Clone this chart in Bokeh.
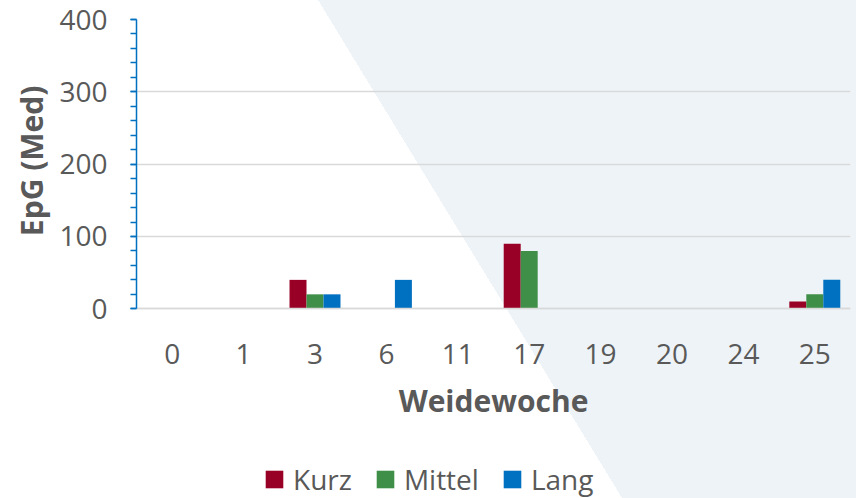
from bokeh.plotting import figure
from bokeh.models import (Range1d, FixedTicker, Legend, LegendItem, ColumnDataSource, Title)
from bokeh.transform import dodge
from bokeh.embed import file_html
from bokeh.resources import INLINE

# ---- data ----
weeks = ["0", "1", "3", "6", "11", "17", "19", "20", "24", "25"]
kurz = [0, 0, 40, 0, 0, 90, 0, 0, 0, 10]
mittel = [0, 0, 20, 0, 0, 80, 0, 0, 0, 20]
lang = [0, 0, 20, 40, 0, 0, 0, 0, 0, 40]
series_names = ["Kurz", "Mittel", "Lang"]
series_colors = ["#990026", "#3F8F48", "#0070C0"]
y_ticks = [0, 100, 200, 300, 400]
y_minor = list(range(0, 401, 20))

idx = list(range(len(weeks)))
src = ColumnDataSource(dict(x=idx, Kurz=kurz, Mittel=mittel, Lang=lang))

FONT = "Open Sans"
TXT = "#595959"

# frame runs to the canvas bottom; value 0 sits ~190px above it
p = figure(width=856, height=498, output_backend="svg", toolbar_location=None,
           x_range=Range1d(-0.5, 9.5), y_range=Range1d(-262.3, 400),
           min_border_left=136, min_border_right=6, min_border_top=19,
           min_border_bottom=0)
p.outline_line_color = None
p.background_fill_color = None
p.background_fill_alpha = 0
p.border_fill_color = None
p.border_fill_alpha = 0
# diagonal two-tone page background
p.styles = {"background": "linear-gradient(58.6deg, #FFFFFF 530.9px, #EEF3F7 530.9px)"}

bw = 0.238
offsets = [-bw, 0.0, bw]
renderers = []
for name, col, off in zip(series_names, series_colors, offsets):
    r = p.vbar(x=dodge("x", off), top=name, width=bw, source=src,
               fill_color=col, line_color=None)
    renderers.append(r)

# x axis pinned at y = 0
p.xaxis.fixed_location = 0
p.xaxis.ticker = FixedTicker(ticks=idx)
p.xaxis.major_label_overrides = {i: w for i, w in zip(idx, weeks)}
p.xaxis.major_tick_line_color = None
p.xaxis.minor_tick_line_color = None
p.xaxis.axis_line_color = "#D9D9D9"
p.xaxis.axis_line_width = 1.5
p.xaxis.major_label_text_font = FONT
p.xaxis.major_label_text_font_size = "28px"
p.xaxis.major_label_text_color = TXT
p.xaxis.major_label_standoff = 29
p.xaxis.axis_label = "Weidewoche"
p.xaxis.axis_label_text_font = FONT
p.xaxis.axis_label_text_font_style = "bold"
p.xaxis.axis_label_text_font_size = "30px"
p.xaxis.axis_label_text_color = TXT
p.xaxis.axis_label_standoff = 13

# y axis
yt = FixedTicker(ticks=y_ticks, minor_ticks=y_minor)
p.yaxis.ticker = yt
p.yaxis.bounds = (0, 400)
p.yaxis.axis_line_color = "#0070C0"
p.yaxis.axis_line_width = 1.5
p.yaxis.major_tick_line_color = "#0070C0"
p.yaxis.major_tick_line_width = 1.5
p.yaxis.major_tick_in = 0
p.yaxis.major_tick_out = 6
p.yaxis.minor_tick_line_color = "#0070C0"
p.yaxis.minor_tick_line_width = 1.5
p.yaxis.minor_tick_in = 0
p.yaxis.minor_tick_out = 6
p.yaxis.major_label_text_font = FONT
p.yaxis.major_label_text_font_size = "28px"
p.yaxis.major_label_text_color = TXT
p.yaxis.major_label_standoff = 23

# y axis title as a side title so it can sit beside the 0-400 span
ytitle = Title(text="EpG (Med)", align="right", offset=66, standoff=10,
               text_font=FONT, text_font_size="30px", text_font_style="bold",
               text_color=TXT)
p.add_layout(ytitle, "left")

p.xgrid.grid_line_color = None
p.ygrid.ticker = yt
p.ygrid.grid_line_color = "#D9D9D9"
p.ygrid.grid_line_width = 1.5

legend = Legend(items=[LegendItem(label=n, renderers=[r]) for n, r in zip(series_names, renderers)],
                orientation="horizontal", location=(127, 0),
                glyph_width=22, glyph_height=22, label_standoff=8, spacing=22,
                padding=0, margin=0, border_line_color=None, background_fill_alpha=0,
                label_text_font=FONT, label_text_font_size="28px", label_text_color=TXT)
p.add_layout(legend)

open("out.html", "w").write(file_html(p, INLINE))
